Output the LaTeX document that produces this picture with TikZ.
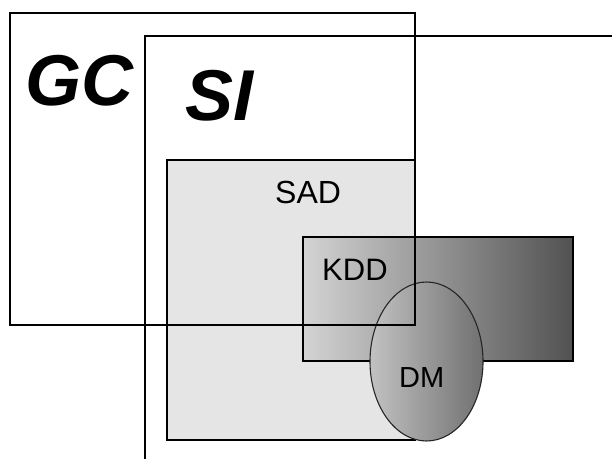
\documentclass[tikz,border=0pt]{standalone}
\usepackage{fontspec}
\setmainfont{Liberation Sans}
\usetikzlibrary{shapes.geometric}
\begin{document}
\begin{tikzpicture}[x=1pt,y=-1pt,
  frame/.style={draw=black,line width=1.6pt,rectangle,inner sep=0pt,outer sep=0pt},
  bigtxt/.style={font=\fontsize{72}{72}\selectfont\bfseries\itshape,anchor=base west,inner sep=0pt},
  smalltxt/.style={font=\fontsize{32}{32}\selectfont,anchor=base west,inner sep=0pt}]
\useasboundingbox (0,0) rectangle (612,459);
% SI (open frame)
\coordinate (si1) at (145,459);
\coordinate (si2) at (145,36);
\coordinate (si3) at (612,36);
\draw[line width=1.6pt] (si1) -- (si2) -- (si3);
% SAD
\node[frame,fill=black!10,minimum width=248pt,minimum height=280pt] (sad) at (291,300) {};
% KDD
\node[frame,left color=black!17,right color=black!68,minimum width=270pt,minimum height=124pt] (kdd) at (438,299) {};
% DM
\node[ellipse,draw=black!85,line width=1.1pt,inner sep=0pt,outer sep=0pt,left color=black!24,right color=black!56,minimum width=113pt,minimum height=159pt] (dm) at (426.5,361.5) {};
% GC
\node[frame,minimum width=405pt,minimum height=312pt] (gc) at (212.5,169) {};
% labels
\node[bigtxt] (gct) at (25,105) {GC};
\node[bigtxt] (sit) at (185,120) {SI};
\node[smalltxt] (sadt) at (275,203) {SAD};
\node[smalltxt,font=\fontsize{31}{31}\selectfont] (kddt) at (322,280) {KDD};
\node[smalltxt,font=\fontsize{29}{29}\selectfont] (dmt) at (399,387) {DM};
\end{tikzpicture}
\end{document}
